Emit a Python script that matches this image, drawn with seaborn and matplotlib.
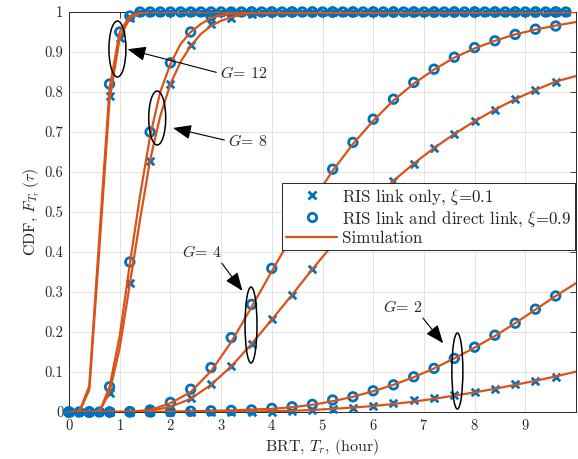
import numpy as np
import pandas as pd
import matplotlib
matplotlib.use("Agg")
import matplotlib.pyplot as plt
from matplotlib.patches import Ellipse
from matplotlib.lines import Line2D
import seaborn as sns

# ============================================================================
# DATA
# ============================================================================
# marker grids
X_FINE = [round(0.2 * i, 1) for i in range(50)]        # 0 ... 9.8, G = 12 markers
X_COARSE = [0, 0.4, 0.8, 1.2, 1.6, 2.0, 2.4, 2.8, 3.2, 3.6, 4.0, 4.4, 4.8,
            5.2, 5.6, 6.0, 6.4, 6.8, 7.2, 7.6, 8.0, 8.4, 8.8, 9.2, 9.6]

# analytical markers, xi = 0.1 (crosses) and xi = 0.9 (circles)
G12_XI01 = [0, 0, 0, 0, 0.79, 0.935, 0.985] + [1.0] * 43
G12_XI09 = [0, 0, 0, 0, 0.82, 0.95, 0.99] + [1.0] * 43
G8_XI01 = [0, 0, 0.048, 0.323, 0.628, 0.82, 0.918, 0.97, 0.985, 0.995] + [1.0] * 15
G8_XI09 = [0, 0, 0.063, 0.375, 0.70, 0.873, 0.95, 0.99, 0.998, 1.0] + [1.0] * 15
G4_XI01 = [0, 0, 0, 0, 0.002, 0.01, 0.036, 0.069, 0.116, 0.17, 0.232, 0.292, 0.357,
           0.42, 0.477, 0.53, 0.577, 0.62, 0.659, 0.695, 0.728, 0.755, 0.782, 0.805, 0.826]
G4_XI09 = [0, 0, 0, 0.001, 0.005, 0.024, 0.057, 0.111, 0.186, 0.269, 0.359, 0.445, 0.53,
           0.607, 0.674, 0.732, 0.782, 0.824, 0.857, 0.887, 0.911, 0.928, 0.944, 0.957, 0.965]
G2_XI01 = [0, 0, 0, 0, 0, 0, 0, 0, 0, 0, 0.001, 0.003, 0.005,
           0.007, 0.009, 0.016, 0.023, 0.03, 0.034, 0.042, 0.051, 0.057, 0.069, 0.077, 0.087]
G2_XI09 = [0, 0, 0, 0, 0, 0.001, 0.002, 0.003, 0.004, 0.005, 0.009, 0.013, 0.019,
           0.03, 0.038, 0.053, 0.068, 0.088, 0.109, 0.134, 0.162, 0.192, 0.222, 0.257, 0.29]

# simulation curves
SIM_X_G12 = [0, 0.2, 0.4, 0.6, 0.8, 1.0, 1.2, 1.4, 1.6, 10]
SIM_G12_XI01 = [0, 0, 0.055, 0.41, 0.78, 0.935, 0.985, 0.997, 1.0, 1.0]
SIM_G12_XI09 = [0, 0, 0.065, 0.44, 0.81, 0.95, 0.99, 0.998, 1.0, 1.0]

SIM_X_G8 = [0, 0.2, 0.4, 0.6, 0.8, 1.0, 1.2, 1.4, 1.6, 1.8, 2.0, 2.2, 2.4, 2.6, 2.8,
            3.0, 3.2, 3.4, 3.6, 10]
SIM_G8_XI01 = [0, 0, 0, 0, 0.05, 0.16, 0.32, 0.48, 0.63, 0.74, 0.82, 0.875, 0.915,
               0.945, 0.965, 0.978, 0.987, 0.993, 0.997, 1.0]
SIM_G8_XI09 = [0, 0, 0, 0, 0.063, 0.19, 0.37, 0.54, 0.69, 0.80, 0.87, 0.92, 0.95,
               0.97, 0.985, 0.992, 0.996, 0.998, 1.0, 1.0]

SIM_X_COARSE = X_COARSE + [10]
SIM_G4_XI01 = [0, 0, 0, 0, 0.003, 0.013, 0.033, 0.068, 0.114, 0.17, 0.231, 0.293, 0.357,
               0.418, 0.476, 0.53, 0.578, 0.621, 0.66, 0.695, 0.727, 0.756, 0.782, 0.805,
               0.826, 0.84]
SIM_G4_XI09 = [0, 0, 0, 0.001, 0.005, 0.022, 0.05, 0.102, 0.175, 0.262, 0.352, 0.44, 0.527,
               0.603, 0.67, 0.728, 0.779, 0.821, 0.856, 0.886, 0.909, 0.928, 0.944, 0.956,
               0.966, 0.975]
SIM_G2_XI01 = [0, 0, 0, 0, 0, 0, 0, 0, 0.001, 0.001, 0.002, 0.003, 0.005,
               0.008, 0.011, 0.015, 0.02, 0.026, 0.033, 0.041, 0.049, 0.058, 0.068, 0.078,
               0.089, 0.101]
SIM_G2_XI09 = [0, 0, 0, 0, 0, 0.001, 0.002, 0.003, 0.004, 0.006, 0.008, 0.012, 0.018,
               0.027, 0.038, 0.052, 0.068, 0.087, 0.109, 0.134, 0.161, 0.19, 0.222, 0.256,
               0.29, 0.322]

BLUE = "#0072BD"
ORANGE = "#D95319"

# ============================================================================
# TIDY TABLES
# ============================================================================
def to_frame(pieces):
    rows = []
    for name, xs, ys in pieces:
        rows.append(pd.DataFrame({"t": xs, "F": ys, "series": name}))
    return pd.concat(rows, ignore_index=True)

crosses = to_frame([("G12", X_FINE, G12_XI01), ("G8", X_COARSE, G8_XI01),
                    ("G4", X_COARSE, G4_XI01), ("G2", X_COARSE, G2_XI01)])
circles = to_frame([("G12", X_FINE, G12_XI09), ("G8", X_COARSE, G8_XI09),
                    ("G4", X_COARSE, G4_XI09), ("G2", X_COARSE, G2_XI09)])
sim = to_frame([("G12a", SIM_X_G12, SIM_G12_XI01), ("G12b", SIM_X_G12, SIM_G12_XI09),
                ("G8a", SIM_X_G8, SIM_G8_XI01), ("G8b", SIM_X_G8, SIM_G8_XI09),
                ("G4a", SIM_X_COARSE, SIM_G4_XI01), ("G4b", SIM_X_COARSE, SIM_G4_XI09),
                ("G2a", SIM_X_COARSE, SIM_G2_XI01), ("G2b", SIM_X_COARSE, SIM_G2_XI09)])

# ============================================================================
# PLOT
# ============================================================================
sns.set_style("whitegrid")
plt.rcParams.update({
    "font.family": "serif",
    "font.serif": ["cmr10"],
    "mathtext.fontset": "cm",
    "axes.formatter.use_mathtext": True,
    "axes.unicode_minus": False,
})

fig = plt.figure(figsize=(5.78, 4.59), dpi=100)
ax = fig.add_axes([69 / 578, 47 / 459, 507 / 578, 400 / 459])

sns.scatterplot(data=crosses, x="t", y="F", marker="x", color=BLUE, s=30,
                linewidth=2.0, ax=ax, zorder=3, clip_on=False, legend=False)
sns.scatterplot(data=circles, x="t", y="F", marker="o", facecolors="none",
                edgecolor=BLUE, s=38, linewidth=2.0, ax=ax, zorder=3,
                clip_on=False, legend=False)
sns.lineplot(data=sim, x="t", y="F", units="series", estimator=None,
             color=ORANGE, linewidth=1.6, ax=ax, zorder=4, legend=False)

ax.set_xlim(0, 10)
ax.set_ylim(0, 1)
ax.set_xticks(range(10))
ax.set_yticks(np.round(np.arange(0, 1.01, 0.1), 1))
ax.set_yticklabels(["0", "0.1", "0.2", "0.3", "0.4", "0.5", "0.6", "0.7", "0.8", "0.9", "1"])
ax.tick_params(direction="in", length=4, width=0.6, top=True, right=True,
               labelsize=10.5, colors="#262626", pad=4)
ax.grid(True, color="#e3e3e3", linewidth=0.7)
for sp in ax.spines.values():
    sp.set_color("#262626")
    sp.set_linewidth(0.7)

ax.set_xlabel(r"BRT, $T_r$, (hour)", fontsize=11.5, color="#262626", labelpad=3)
ax.set_ylabel(r"CDF, $F_{T_r}\,(\tau)$", fontsize=11.5, color="#262626", labelpad=2)

# ellipses + arrows
ellipses = [(0.955, 0.9075, 0.335, 0.14), (1.74, 0.735, 0.335, 0.135),
            (3.59, 0.2175, 0.236, 0.19), (7.66, 0.1025, 0.217, 0.19)]
for cx, cy, w, h in ellipses:
    ax.add_patch(Ellipse((cx, cy), w, h, fill=False, edgecolor="k", linewidth=1.1, zorder=6))

arrow = dict(arrowstyle="-|>,head_length=0.75,head_width=0.3", color="k",
             lw=0.8, mutation_scale=15, shrinkA=0, shrinkB=0)
ax.annotate(r"$G$= 12", xy=(1.155, 0.907), xytext=(2.97, 0.847), fontsize=11.5,
            ha="left", va="center", arrowprops={**arrow, "relpos": (0, 0.5)}, zorder=7)
ax.annotate(r"$G$= 8", xy=(2.05, 0.71), xytext=(3.13, 0.678), fontsize=11.5,
            ha="left", va="center", arrowprops={**arrow, "relpos": (0, 0.5)}, zorder=7)
ax.annotate(r"$G$= 4", xy=(3.42, 0.303), xytext=(2.22, 0.40), fontsize=11.5,
            ha="left", va="center", arrowprops={**arrow, "relpos": (0.95, 0.0)}, zorder=7)
ax.annotate(r"$G$= 2", xy=(7.38, 0.172), xytext=(6.19, 0.263), fontsize=11.5,
            ha="left", va="center", arrowprops={**arrow, "relpos": (0.95, 0.0)}, zorder=7)

handles = [
    Line2D([], [], marker="x", color=BLUE, linestyle="", markersize=5.5, markeredgewidth=2.0),
    Line2D([], [], marker="o", color=BLUE, markerfacecolor="none", linestyle="",
           markersize=6, markeredgewidth=2.0),
    Line2D([], [], color=ORANGE, linewidth=1.6),
]
labels = [r"RIS link only, $\xi$=0.1", r"RIS link and direct link, $\xi$=0.9", "Simulation"]
leg = ax.legend(handles, labels, loc="upper right", bbox_to_anchor=(0.998, 0.5725),
                borderaxespad=0, fontsize=12.2, frameon=True, fancybox=False,
                edgecolor="#262626", framealpha=1, handlelength=3.0, handletextpad=0.3,
                labelspacing=0.12, borderpad=0.22)
leg.get_frame().set_linewidth(0.7)
leg.set_zorder(10)

fig.savefig("out.png", dpi=100)
